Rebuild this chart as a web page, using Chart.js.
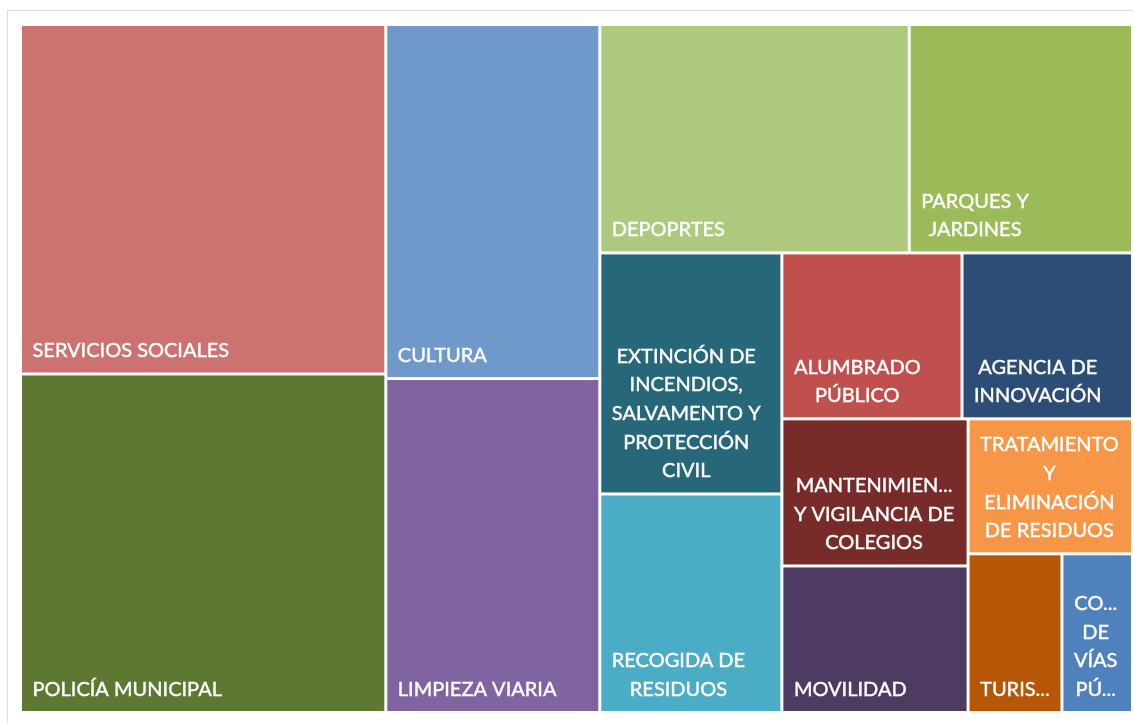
<!DOCTYPE html>
<html lang="es">
<head>
    <meta charset="UTF-8">
    <meta name="viewport" content="width=device-width, initial-scale=1.0">
    <title>Presupuesto por áreas</title>
    <script src="https://cdn.jsdelivr.net/npm/chart.js"></script>
    <style>
        html, body { margin: 0; padding: 0; background: #fff; }
        #wrap { width: 1133px; height: 723px; position: relative; }
    </style>
</head>
<body>
    <div id="wrap"><canvas id="treemap"></canvas></div>
    <script>
        // Areas in the order Excel laid them out (largest first)
        const categorias = [
            'SERVICIOS SOCIALES',
            'POLICÍA MUNICIPAL',
            'CULTURA',
            'LIMPIEZA VIARIA',
            'DEPOPRTES',
            'PARQUES Y JARDINES',
            'EXTINCIÓN DE INCENDIOS, SALVAMENTO Y PROTECCIÓN CIVIL',
            'RECOGIDA DE RESIDUOS',
            'ALUMBRADO PÚBLICO',
            'AGENCIA DE INNOVACIÓN',
            'MANTENIMIENTO Y VIGILANCIA DE COLEGIOS',
            'MOVILIDAD',
            'TRATAMIENTO Y ELIMINACIÓN DE RESIDUOS',
            'TURISMO',
            'CONSERVACIÓN DE VÍAS PÚBLICAS'
        ];
        // relative size of each area
        const valores = [12.77, 12.37, 7.58, 7.15, 7.07, 5.10, 4.39, 3.98, 2.99, 2.83, 2.74, 2.73, 2.22, 1.49, 1.12];
        const colores = [
            '#cc7270', '#5e7731', '#7099cb', '#8064a2', '#aec87d',
            '#9bbb59', '#266879', '#4bacc6', '#c0504d', '#2c4d75',
            '#772c2a', '#4e3b62', '#f79646', '#b65708', '#4f81bd'
        ];

        const maxPorFranja = 2;   // Excel puts at most two cells in a strip here
        const hueco = 1.5;        // half of the white gap between cells
        const margenIzq = 10.5;   // text offset from the cell's left edge
        const margenTotal = 19;   // left + right room when wrapping
        const altoLinea = 28.7;
        const fuente = '20px Lato';

        // squarified layout, working in pixel proportions
        function squarify(vals, x, y, w, h) {
            const total = vals.reduce((a, b) => a + b, 0);
            const k = (w * h) / total;
            const rects = [];
            let i = 0;
            while (i < vals.length) {
                const lado = Math.min(w, h);
                const peor = (n) => {
                    let s = 0;
                    for (let j = i; j < i + n; j++) s += vals[j] * k;
                    const t = s / lado;
                    let m = 0;
                    for (let j = i; j < i + n; j++) {
                        const l = vals[j] * k / t;
                        m = Math.max(m, t / l, l / t);
                    }
                    return m;
                };
                let n = 1;
                while (n < maxPorFranja && i + n < vals.length && peor(n + 1) <= peor(n)) n++;
                let s = 0;
                for (let j = i; j < i + n; j++) s += vals[j] * k;
                if (w >= h) {
                    const t = s / h;
                    let yy = y;
                    for (let j = i; j < i + n; j++) {
                        const hh = vals[j] * k / t;
                        rects[j] = { x0: x, y0: yy, x1: x + t, y1: yy + hh };
                        yy += hh;
                    }
                    x += t; w -= t;
                } else {
                    const t = s / w;
                    let xx = x;
                    for (let j = i; j < i + n; j++) {
                        const ww = vals[j] * k / t;
                        rects[j] = { x0: xx, y0: y, x1: xx + ww, y1: y + t };
                        xx += ww;
                    }
                    y += t; h -= t;
                }
                i += n;
            }
            return rects;
        }

        function partirTexto(ctx, texto, ancho) {
            const lineas = [];
            let actual = '';
            texto.split(' ').forEach(palabra => {
                if (ctx.measureText(palabra).width > ancho) {
                    if (actual) { lineas.push(actual); actual = ''; }
                    let c = palabra.length;
                    while (c > 1 && ctx.measureText(palabra.slice(0, c) + '...').width > ancho) c--;
                    lineas.push(palabra.slice(0, c) + '...');
                    return;
                }
                const prueba = actual ? actual + ' ' + palabra : palabra;
                if (ctx.measureText(prueba).width > ancho) {
                    lineas.push(actual);
                    actual = palabra;
                } else {
                    actual = prueba;
                }
            });
            if (actual) lineas.push(actual);
            return lineas;
        }

        const marco = {
            id: 'marco',
            beforeDraw(chart) {
                const ctx = chart.ctx;
                ctx.save();
                ctx.strokeStyle = '#dcdcdc';
                ctx.lineWidth = 1;
                ctx.strokeRect(7.5, 10.5, 1400, 900);
                ctx.restore();
            }
        };

        const celdas = {
            id: 'celdas',
            afterDatasetsDraw(chart) {
                const { ctx, chartArea, scales } = chart;
                const W = chartArea.right - chartArea.left;
                const H = chartArea.bottom - chartArea.top;
                const rects = squarify(valores, 0, 0, W, H);
                ctx.save();
                ctx.font = fuente;
                rects.forEach((r, i) => {
                    const x0 = scales.x.getPixelForValue(r.x0 / W) + hueco;
                    const x1 = scales.x.getPixelForValue(r.x1 / W) - hueco;
                    const y0 = scales.y.getPixelForValue(r.y0 / H) + hueco;
                    const y1 = scales.y.getPixelForValue(r.y1 / H) - hueco;
                    ctx.fillStyle = colores[i];
                    ctx.fillRect(x0, y0, x1 - x0, y1 - y0);

                    const lineas = partirTexto(ctx, categorias[i], x1 - x0 - margenTotal);
                    const anchoBloque = Math.max(...lineas.map(l => ctx.measureText(l).width));
                    const centro = x0 + margenIzq + anchoBloque / 2;
                    ctx.fillStyle = '#ffffff';
                    ctx.strokeStyle = '#ffffff';
                    ctx.lineWidth = 0.4;
                    ctx.textAlign = 'center';
                    ctx.textBaseline = 'alphabetic';
                    lineas.forEach((l, j) => {
                        const base = y1 - 15 - (lineas.length - 1 - j) * altoLinea;
                        ctx.fillText(l, centro, base);
                        ctx.strokeText(l, centro, base);
                    });
                });
                ctx.restore();
            }
        };

        new Chart(document.getElementById('treemap'), {
            type: 'scatter',
            data: {
                datasets: [{ label: 'Presupuesto', data: [] }]
            },
            options: {
                responsive: true,
                maintainAspectRatio: false,
                animation: false,
                layout: { padding: { left: 20.5, right: 0.5, top: 24.5, bottom: 10.5 } },
                plugins: { legend: { display: false }, tooltip: { enabled: false } },
                scales: {
                    x: { type: 'linear', min: 0, max: 1, display: false },
                    y: { type: 'linear', min: 0, max: 1, reverse: true, display: false }
                }
            },
            plugins: [marco, celdas]
        });
    </script>
</body>
</html>
